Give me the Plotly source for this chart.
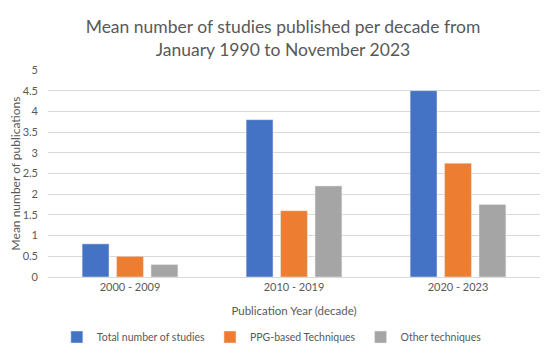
import plotly.graph_objects as go

categories = ["2000 - 2009", "2010 - 2019", "2020 - 2023"]
total_studies = [0.8, 3.8, 4.5]
ppg_based = [0.5, 1.6, 2.75]
other_tech = [0.3, 2.2, 1.75]
y_ticks = [0, 0.5, 1, 1.5, 2, 2.5, 3, 3.5, 4, 4.5, 5]
y_tick_text = ["0", "0.5", "1", "1.5", "2", "2.5", "3", "3.5", "4", "4.5", "5"]

font_family = "Lato, 'Open Sans', sans-serif"
grey = "#595959"

fig = go.Figure()
fig.add_trace(go.Bar(name="Total number of studies", x=categories, y=total_studies, marker_color="#4472C4"))
fig.add_trace(go.Bar(name="PPG-based Techniques", x=categories, y=ppg_based, marker_color="#ED7D31"))
fig.add_trace(go.Bar(name="Other techniques", x=categories, y=other_tech, marker_color="#A5A5A5"))

fig.update_layout(
    width=550, height=357,
    margin=dict(l=40, r=18, t=62, b=88, autoexpand=False),
    paper_bgcolor="white", plot_bgcolor="white",
    barmode="group", bargap=0.37, bargroupgap=0.22,
    title=dict(text="Mean number of studies published per decade from<br>January 1990 to November 2023",
               x=0.5, xanchor="center", y=0.93, yanchor="middle",
               font=dict(family=font_family, size=17.5, color=grey)),
    font=dict(family=font_family, color=grey, size=11),
    legend=dict(orientation="h", x=0.455, xanchor="center", y=-0.29, yanchor="middle",
                font=dict(size=10.5, color=grey), itemwidth=30, traceorder="normal",
                tracegroupgap=0),
    showlegend=True,
)
fig.update_xaxes(
    showgrid=False, showline=True, linecolor="#D9D9D9", linewidth=1, automargin=False,
    ticks="", tickfont=dict(size=11, color=grey),
    title=dict(text="Publication Year (decade)", font=dict(size=11.5, color=grey), standoff=14),
)
fig.update_yaxes(
    range=[0, 5], tickvals=y_ticks, ticktext=y_tick_text, automargin=False,
    showgrid=True, gridcolor="#D9D9D9", gridwidth=1, zeroline=False,
    tickfont=dict(size=11, color=grey), ticks="", ticklabelstandoff=9,
    title=dict(text="Mean number of publications", font=dict(size=12, color=grey), standoff=11),
)

fig.write_html("out.html")
